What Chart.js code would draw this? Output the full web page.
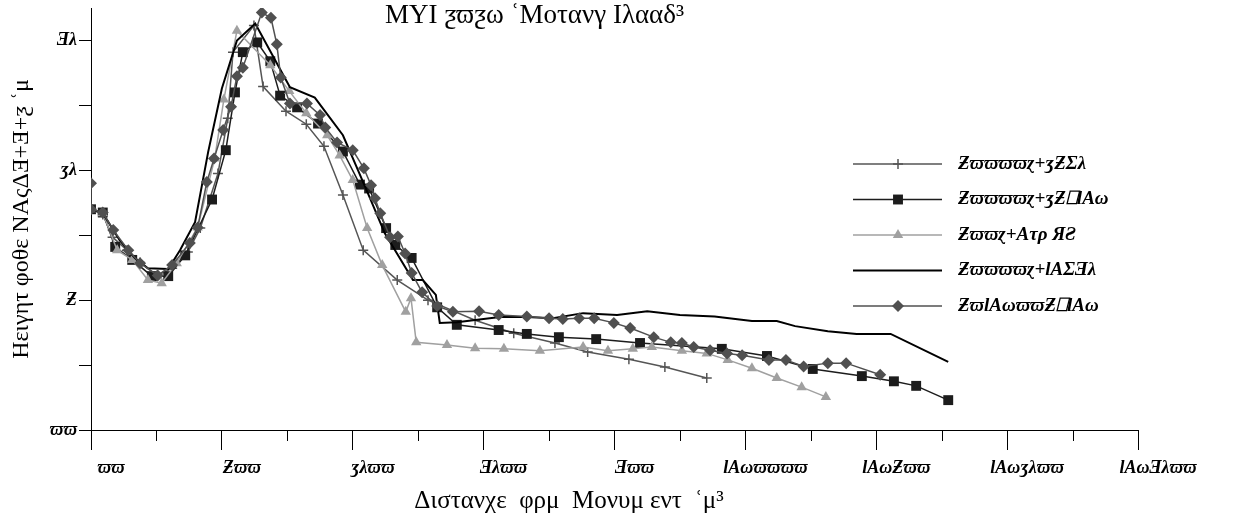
<!DOCTYPE html>
<html><head><meta charset="utf-8">
<script src="https://cdn.jsdelivr.net/npm/chart.js@4/dist/chart.umd.min.js"></script>
<style>html,body{margin:0;padding:0;background:#fff;}#wrap{width:1233px;height:518px;}</style>
</head><body><div id="wrap"><canvas id="c" width="1233" height="518"></canvas></div>
<script>
const chartTitle = "MYI ƺϖƺω ʿΜοτανγ Ιλααδ³";
const xAxisTitle = "Διστανχε  φρμ  Μονυμ εντ  ʿμ³";
const yAxisTitle = "Ηειγητ φοθε ΝΑςΔƎ+Ǝ+ƺ ʿμ";
const xTickValues = [0,200,400,600,800,1000,1200,1400,1600];
const xTickLabels = ["ϖϖ","Ƶϖϖ","ʒλϖϖ","Ǝλϖϖ","Ǝϖϖ","lAωϖϖϖϖ","lAωƵϖϖ","lAωʒλϖϖ","lAωƎλϖϖ"];
const yTickValues = [0,2,4,6];
const yTickLabels = ["ϖϖ","Ƶ","ʒλ","Ǝλ"];
const seriesNames = ["Ƶϖϖϖϖɀ+ʒƵΣλ","Ƶϖϖϖϖɀ+ʒƵ⎕lAω","Ƶϖϖɀ+Aτρ ЯƧ","Ƶϖϖϖϖɀ+lAƩƎλ","ƵϖlAωϖϖƵ⎕lAω"];

const A_x = [0,18,33,55,75,101,124,148,167,194,209,217,249,263,298,329,356,385,416,468,515,587,646,709,759,822,877,941];
const A_y = [3.40,3.32,2.97,2.77,2.58,2.38,2.49,2.74,3.11,3.95,4.80,5.82,6.23,5.29,4.91,4.71,4.37,3.62,2.77,2.31,2.00,1.69,1.49,1.34,1.20,1.09,0.97,0.80];
const B_x = [0,18,37,63,93,118,144,185,206,220,232,254,274,289,315,347,385,411,425,451,465,490,529,559,623,666,715,772,839,964,1033,1103,1178,1227,1261,1310];
const B_y = [3.40,3.35,2.82,2.62,2.37,2.37,2.69,3.55,4.31,5.20,5.82,5.97,5.68,5.15,4.97,4.72,4.29,3.78,3.72,3.11,2.85,2.65,1.89,1.62,1.54,1.48,1.43,1.40,1.34,1.25,1.14,0.94,0.83,0.75,0.68,0.46];
const C_x = [0,18,40,63,87,108,131,163,189,203,223,274,303,329,361,380,400,422,445,481,489,497,544,587,631,686,752,790,828,857,903,941,973,1010,1048,1086,1123];
const C_y = [3.40,3.34,2.77,2.62,2.31,2.26,2.57,3.12,4.18,5.09,6.15,5.62,5.22,4.88,4.54,4.23,3.85,3.11,2.54,1.82,2.03,1.35,1.31,1.26,1.25,1.22,1.28,1.22,1.25,1.28,1.22,1.18,1.08,0.95,0.80,0.66,0.51];
const D_x = [0,18,44,67,87,118,136,159,179,200,223,251,284,304,342,385,406,426,449,492,507,527,533,559,625,666,706,752,804,850,900,953,1010,1048,1076,1126,1170,1222,1310];
const D_y = [3.40,3.34,2.92,2.65,2.49,2.48,2.77,3.20,4.28,5.26,6.00,6.26,5.65,5.28,5.12,4.54,4.05,3.58,3.03,2.31,2.31,2.08,1.65,1.66,1.74,1.74,1.72,1.80,1.77,1.83,1.77,1.75,1.68,1.68,1.60,1.52,1.48,1.48,1.05];
const E_x = [0,0,18,34,57,75,102,124,151,163,177,188,202,214,223,232,261,275,284,290,304,330,350,358,376,400,417,428,434,442,457,469,480,490,506,529,553,593,623,666,700,721,746,769,799,824,860,886,903,921,946,972,995,1036,1062,1089,1126,1154,1206];
const E_y = [3.80,3.40,3.35,3.08,2.77,2.57,2.38,2.54,2.88,3.12,3.82,4.18,4.62,4.98,5.45,5.58,6.43,6.35,5.94,5.43,5.03,5.03,4.85,4.66,4.43,4.31,4.03,3.77,3.57,3.34,2.97,2.98,2.72,2.42,2.12,1.91,1.82,1.83,1.77,1.75,1.72,1.71,1.72,1.72,1.65,1.57,1.43,1.35,1.34,1.28,1.23,1.18,1.15,1.08,1.08,0.98,1.03,1.03,0.85];

const zip = (xs, ys) => xs.map((x, i) => ({x: x, y: ys[i]}));
const SERIF = "'Liberation Serif','DejaVu Serif',serif";
const styles = [
  {color:'#555555', pointStyle:'cross', radius:5, width:1.5, fill:'#555555'},
  {color:'#1c1c1c', pointStyle:'rect', radius:7, width:1.5, fill:'#1c1c1c'},
  {color:'#a0a0a0', pointStyle:'triangle', radius:6, width:1.5, fill:'#a0a0a0'},
  {color:'#000000', pointStyle:false, radius:0, width:2, fill:'#000000'},
  {color:'#505050', pointStyle:'rectRot', radius:6, width:1.5, fill:'#505050'}
];
const seriesData = [zip(A_x,A_y), zip(B_x,B_y), zip(C_x,C_y), zip(D_x,D_y), zip(E_x,E_y)];

const datasets = seriesData.map((d, i) => ({
  label: seriesNames[i],
  data: d,
  borderColor: styles[i].color,
  backgroundColor: styles[i].fill,
  borderWidth: styles[i].width,
  pointStyle: styles[i].pointStyle,
  pointRadius: styles[i].radius,
  pointBorderWidth: styles[i].pointStyle === 'cross' ? 1.5 : 0,
  pointBorderColor: styles[i].color,
  pointBackgroundColor: styles[i].fill,
  tension: 0,
  fill: false,
  order: 4 - i
}));

const overlay = {
  id: 'overlay',
  afterDraw(chart) {
    const ctx = chart.ctx;
    const xs = chart.scales.x, ys = chart.scales.y;
    ctx.save();
    ctx.strokeStyle = '#000'; ctx.lineWidth = 1;
    for (let v = 100; v < 1600; v += 200) {
      const px = Math.round(xs.getPixelForValue(v)) + 0.5;
      ctx.beginPath(); ctx.moveTo(px, ys.bottom); ctx.lineTo(px, ys.bottom + 11); ctx.stroke();
    }
    ctx.fillStyle = '#000';
    ctx.font = "27px " + SERIF;
    ctx.textAlign = 'left'; ctx.textBaseline = 'alphabetic';
    ctx.fillText(chartTitle, 385, 23);
    ctx.font = "25px " + SERIF;
    ctx.textAlign = 'center';
    ctx.fillText(xAxisTitle, 569, 508);
    const lx0 = 853, lx1 = 942, mx = 898, tx = 958;
    datasets.forEach((ds, i) => {
      const y = 164 + i * 35.5;
      ctx.strokeStyle = ds.borderColor; ctx.lineWidth = ds.borderWidth;
      ctx.beginPath(); ctx.moveTo(lx0, y); ctx.lineTo(lx1, y); ctx.stroke();
      if (ds.pointStyle) {
        ctx.fillStyle = ds.pointBackgroundColor; ctx.strokeStyle = ds.pointBorderColor;
        ctx.lineWidth = ds.pointBorderWidth || 0;
        Chart.helpers.drawPoint(ctx, {pointStyle: ds.pointStyle, radius: ds.pointRadius, rotation: 0, borderWidth: ds.pointBorderWidth}, mx, y);
      }
      ctx.fillStyle = '#000';
      ctx.font = "bold italic 19px " + SERIF;
      ctx.textAlign = 'left'; ctx.textBaseline = 'middle';
      ctx.fillText(ds.label, tx, y);
    });
    ctx.restore();
  }
};

new Chart(document.getElementById('c'), {
  type: 'line',
  data: { datasets: datasets },
  plugins: [overlay],
  options: {
    responsive: false, animation: false, devicePixelRatio: 1,
    layout: { padding: { top: 8, right: 95, left: 0, bottom: 0 } },
    plugins: { legend: { display: false }, title: { display: false }, tooltip: { enabled: false } },
    scales: {
      x: {
        type: 'linear', min: 0, max: 1600,
        afterBuildTicks: s => { s.ticks = xTickValues.map(v => ({value: v})); },
        afterFit: s => { s.height = 88; s.paddingLeft = 0; s.paddingRight = 0; },
        grid: { drawOnChartArea: false, drawTicks: true, tickLength: 20, color: '#000', tickColor: '#000', tickWidth: 1 },
        border: { display: true, color: '#000', width: 1 },
        ticks: {
          callback: (v) => { const k = xTickValues.indexOf(v); return k >= 0 ? xTickLabels[k] : ''; },
          font: { family: SERIF, size: 18, style: 'italic', weight: 'bold' },
          color: '#000', padding: 8, labelOffset: 20, maxRotation: 0, autoSkip: false
        }
      },
      y: {
        type: 'linear', min: 0, max: 6.5,
        afterBuildTicks: s => { s.ticks = [0,1,2,3,4,5,6].map(v => ({value: v})); },
        afterFit: s => { s.width = 91; s.paddingTop = 0; s.paddingBottom = 0; },
        grid: { drawOnChartArea: false, drawTicks: true, tickLength: 12, color: '#000', tickColor: '#000', tickWidth: 1 },
        border: { display: true, color: '#000', width: 1 },
        title: { display: true, text: yAxisTitle, color: '#000', font: { family: SERIF, size: 24 }, padding: { top: 7, bottom: 0 } },
        ticks: {
          callback: (v) => { const k = yTickValues.indexOf(v); return k >= 0 ? yTickLabels[k] : ''; },
          font: { family: SERIF, size: 18, style: 'italic', weight: 'bold' },
          color: '#000', padding: 2, autoSkip: false
        }
      }
    }
  }
});
</script></body></html>
